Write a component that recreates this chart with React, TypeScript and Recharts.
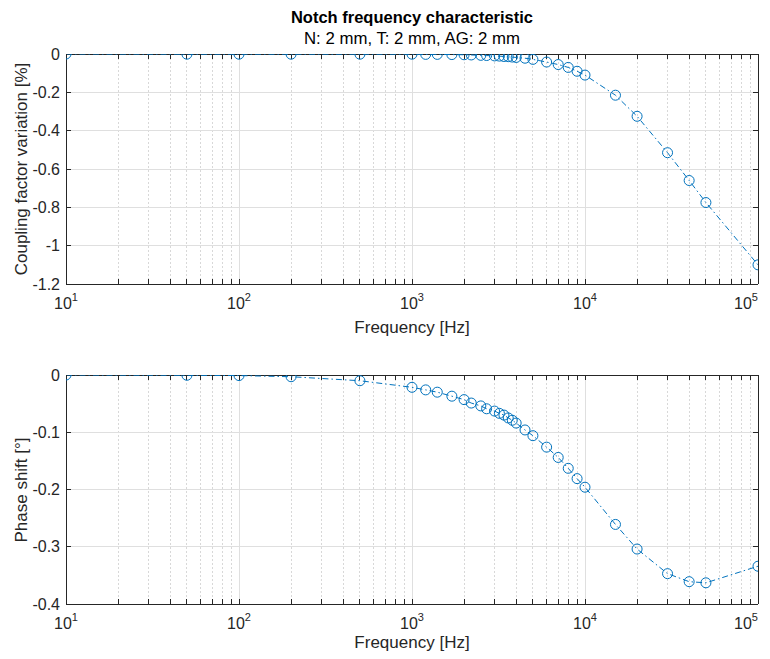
import React from 'react';
import { LineChart, Line, XAxis, YAxis, ReferenceLine } from 'recharts';

// frequencies in Hz
const freqs = [
  10, 50, 100, 200, 500, 1000, 1200, 1400, 1700, 2000, 2200, 2500, 2700, 3000,
  3200, 3400, 3600, 3800, 4000, 4500, 5000, 6000, 7000, 8000, 9000, 10000,
  15000, 20000, 30000, 40000, 50000, 100000,
];

// coupling factor variation [%]
const coupling = [
  0, -0.001, -0.001, -0.001, -0.001, -0.001, -0.002, -0.002, -0.003, -0.004,
  -0.005, -0.007, -0.008, -0.01, -0.011, -0.013, -0.014, -0.016, -0.018,
  -0.022, -0.028, -0.042, -0.055, -0.07, -0.09, -0.11, -0.215, -0.325, -0.515,
  -0.66, -0.775, -1.1,
];

// phase shift [deg]
const phase = [
  0, -0.0005, -0.001, -0.003, -0.01, -0.0215, -0.026, -0.03, -0.037, -0.043,
  -0.049, -0.054, -0.059, -0.063, -0.067, -0.07, -0.075, -0.079, -0.084,
  -0.096, -0.106, -0.126, -0.144, -0.163, -0.181, -0.196, -0.261, -0.304,
  -0.347, -0.361, -0.363, -0.334,
];

const xTicks = [10, 100, 1000, 10000, 100000];
const xMinor = xTicks.slice(0, -1).flatMap((d) =>
  [2, 3, 4, 5, 6, 7, 8, 9].map((k) => d * k)
);
const yTicksTop = [0, -0.2, -0.4, -0.6, -0.8, -1, -1.2];
const yTicksBottom = [0, -0.1, -0.2, -0.3, -0.4];

const topData = freqs.map((f, i) => ({ f, v: coupling[i] }));
const bottomData = freqs.map((f, i) => ({ f, v: phase[i] }));

const AXIS = '#262626';
const BLUE = '#0072BD';
const GRID = '#dfdfdf';
const FONT = '"Liberation Sans", Arial, Helvetica, sans-serif';
const TICK_LEN = 5;

const XTick = (props: any) => {
  const { x, y, payload } = props;
  const exp = Math.round(Math.log10(payload.value));
  return (
    <text x={x} y={y + 25} textAnchor="middle" fontSize={16} fill={AXIS} fontFamily={FONT}>
      <tspan>10</tspan>
      <tspan dy={-8} fontSize={11}>{exp}</tspan>
    </text>
  );
};

// vertical grid line + inward tick marks at top and bottom (edge = box side)
const vShape = (minor: boolean, edge: boolean) => (p: any) => {
  const top = Math.min(p.y1, p.y2);
  const bot = Math.max(p.y1, p.y2);
  return (
    <g shapeRendering="crispEdges">
      {edge ? (
        <line x1={p.x1} x2={p.x1} y1={top} y2={bot} stroke={AXIS} />
      ) : (
        <line
          x1={p.x1}
          x2={p.x1}
          y1={top}
          y2={bot}
          stroke={minor ? '#d8d8d8' : GRID}
          strokeDasharray={minor ? '2 2' : undefined}
        />
      )}
      <line x1={p.x1} x2={p.x1} y1={top} y2={top + TICK_LEN} stroke={AXIS} />
      <line x1={p.x1} x2={p.x1} y1={bot - TICK_LEN} y2={bot} stroke={AXIS} />
    </g>
  );
};

// horizontal grid line + inward tick marks left and right
const hShape = (edge: boolean) => (p: any) => {
  const l = Math.min(p.x1, p.x2);
  const r = Math.max(p.x1, p.x2);
  return (
    <g shapeRendering="crispEdges">
      <line x1={l} x2={r} y1={p.y1} y2={p.y1} stroke={edge ? AXIS : GRID} />
      <line x1={l} x2={l + TICK_LEN} y1={p.y1} y2={p.y1} stroke={AXIS} />
      <line x1={r - TICK_LEN} x2={r} y1={p.y1} y2={p.y1} stroke={AXIS} />
    </g>
  );
};

interface PanelProps {
  data: { f: number; v: number }[];
  yTicks: number[];
  height: number;
  top: number;
  bottom: number;
}

const Panel = ({ data, yTicks, height, top, bottom }: PanelProps) => {
  const yMin = Math.min(...yTicks);
  const yMax = Math.max(...yTicks);
  const xMin = xTicks[0];
  const xMax = xTicks[xTicks.length - 1];
  return (
    <LineChart
      width={770}
      height={height}
      data={data}
      margin={{ top, right: 12, left: 0, bottom }}
    >
      <XAxis
        dataKey="f"
        type="number"
        scale="log"
        domain={[xMin, xMax]}
        ticks={xTicks}
        axisLine={{ stroke: AXIS, shapeRendering: 'crispEdges' }}
        tickLine={false}
        tickSize={0}
        tickMargin={0}
        height={40}
        tick={<XTick />}
        allowDataOverflow
      />
      <YAxis
        type="number"
        domain={[yMin, yMax]}
        ticks={yTicks}
        axisLine={{ stroke: AXIS, shapeRendering: 'crispEdges' }}
        tickLine={false}
        tickSize={0}
        tickMargin={6}
        width={66}
        tick={{ fontSize: 16, fill: AXIS, fontFamily: FONT }}
        allowDataOverflow
      />
      {xMinor.map((v) => (
        <ReferenceLine key={`m${v}`} x={v} ifOverflow="visible" shape={vShape(true, false)} />
      ))}
      {yTicks.map((v) => (
        <ReferenceLine
          key={`y${v}`}
          y={v}
          ifOverflow="visible"
          shape={hShape(v === yMin || v === yMax)}
        />
      ))}
      {xTicks.map((v) => (
        <ReferenceLine
          key={`M${v}`}
          x={v}
          ifOverflow="visible"
          shape={vShape(false, v === xMin || v === xMax)}
        />
      ))}
      <Line
        type="linear"
        dataKey="v"
        stroke={BLUE}
        strokeWidth={1}
        strokeDasharray="6 3 1.5 3"
        dot={{ r: 5, stroke: BLUE, strokeWidth: 1, fill: 'none', strokeDasharray: '' }}
        isAnimationActive={false}
      />
    </LineChart>
  );
};

const textStyle: React.CSSProperties = {
  position: 'absolute',
  fontFamily: FONT,
  color: AXIS,
  whiteSpace: 'nowrap',
  lineHeight: 1,
  transform: 'translate(-50%, -50%)',
};

export default function App() {
  return (
    <div
      style={{
        position: 'absolute',
        left: 0,
        top: 0,
        width: 770,
        height: 659,
        background: '#fff',
        overflow: 'hidden',
      }}
    >
      <div style={{ ...textStyle, left: 412, top: 17, fontSize: 16.5, fontWeight: 'bold', color: '#000' }}>
        Notch frequency characteristic
      </div>
      <div style={{ ...textStyle, left: 412, top: 39, fontSize: 16.8, color: '#000' }}>
        N: 2 mm, T: 2 mm, AG: 2 mm
      </div>
      <div style={{ position: 'absolute', left: 0, top: 0 }}>
        <Panel data={topData} yTicks={yTicksTop} height={340} top={54} bottom={16} />
      </div>
      <div style={{ position: 'absolute', left: 0, top: 330 }}>
        <Panel data={bottomData} yTicks={yTicksBottom} height={329} top={45} bottom={15} />
      </div>
      <div style={{ ...textStyle, left: 412, top: 327, fontSize: 17 }}>Frequency [Hz]</div>
      <div style={{ ...textStyle, left: 412, top: 642, fontSize: 17 }}>Frequency [Hz]</div>
      <div style={{ ...textStyle, left: 21, top: 169, fontSize: 17, transform: 'translate(-50%, -50%) rotate(-90deg)' }}>
        Coupling factor variation [%]
      </div>
      <div style={{ ...textStyle, left: 21, top: 490, fontSize: 17, transform: 'translate(-50%, -50%) rotate(-90deg)' }}>
        Phase shift [°]
      </div>
    </div>
  );
}
